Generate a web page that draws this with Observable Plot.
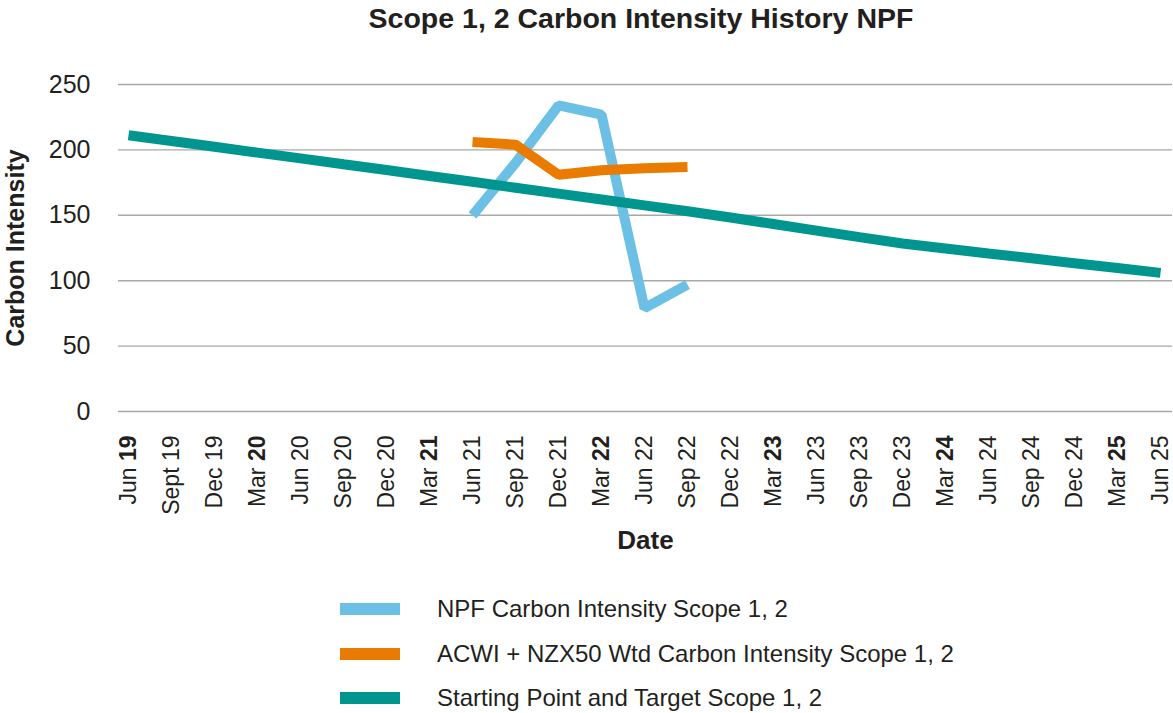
<!DOCTYPE html>
<html>
<head>
<meta charset="utf-8">
<script src="https://cdn.jsdelivr.net/npm/d3@7"></script>
<script src="https://cdn.jsdelivr.net/npm/@observablehq/plot@0.6"></script>
<style>
  html, body { margin: 0; padding: 0; background: #fff; }
  #wrap { position: relative; width: 1173px; height: 713px; overflow: hidden; font-family: "Liberation Sans", Arial, Helvetica, sans-serif; color: #231f20; }
  #title { position: absolute; left: 641px; top: 4px; transform: translateX(-50%); white-space: nowrap; font-size: 28.5px; line-height: 28.5px; font-weight: bold; }
  #chart { position: absolute; left: 0; top: 50px; }
  .lg-row { position: absolute; left: 0; width: 1173px; height: 24px; }
  .lg-sw { position: absolute; left: 340px; top: 6px; width: 60px; height: 12px; }
  .lg-tx { position: absolute; left: 437px; top: 0; font-size: 24px; line-height: 24px; white-space: nowrap; }
</style>
</head>
<body>
<div id="wrap">
  <div id="title"></div>
  <div id="chart"></div>
  <div id="legend"></div>
</div>
<script>
// ---- Data ----
const chartTitle = "Scope 1, 2 Carbon Intensity History NPF";
const xLabels = ["Jun 19","Sept 19","Dec 19","Mar 20","Jun 20","Sep 20","Dec 20","Mar 21","Jun 21","Sep 21","Dec 21","Mar 22","Jun 22","Sep 22","Dec 22","Mar 23","Jun 23","Sep 23","Dec 23","Mar 24","Jun 24","Sep 24","Dec 24","Mar 25","Jun 25"];
const boldYearLabels = ["Jun 19","Mar 20","Mar 21","Mar 22","Mar 23","Mar 24","Mar 25"];
const yTicks = [0, 50, 100, 150, 200, 250];

const seriesNames = ["NPF Carbon Intensity Scope 1, 2", "ACWI + NZX50 Wtd Carbon Intensity Scope 1, 2", "Starting Point and Target Scope 1, 2"];
const seriesColors = ["#6cc0e5", "#e97c00", "#00968f"];

const npfDates = ["Jun 21","Sep 21","Dec 21","Mar 22","Jun 22","Sep 22"];
const npfValues = [150, 190, 234, 227, 79, 97];
const acwiDates = ["Jun 21","Sep 21","Dec 21","Mar 22","Jun 22","Sep 22"];
const acwiValues = [206, 204, 181, 184.5, 186, 187];
const targetDates = xLabels;
const targetValues = [211.2, 206.8, 202.4, 197.9, 193.5, 189.0, 184.6, 180.1, 175.6, 171.1, 166.6, 162.1, 157.6, 153.1, 148.3, 143.3, 138.3, 133.3, 128.4, 124.6, 120.8, 117.1, 113.4, 109.7, 106.0];

const axisTitleY = "Carbon Intensity";
const axisTitleX = "Date";

// ---- Build tables ----
const npf = npfDates.map((d, i) => ({date: d, value: npfValues[i]}));
const acwi = acwiDates.map((d, i) => ({date: d, value: acwiValues[i]}));
const target = targetDates.map((d, i) => ({date: d, value: targetValues[i]}));

document.getElementById("title").textContent = chartTitle;

const textColor = "#231f20";
const plot = Plot.plot({
  width: 1173,
  height: 520,
  marginTop: 34,
  marginBottom: 159,
  marginLeft: 118,
  marginRight: 1,
  style: {fontFamily: '"Liberation Sans", Arial, Helvetica, sans-serif', color: textColor, background: "transparent"},
  x: {type: "point", domain: xLabels, padding: 0, insetLeft: 5, insetRight: 8},
  y: {domain: [0, 250]},
  marks: [
    Plot.ruleY(yTicks, {stroke: "#a8a8a8", strokeWidth: 1.4}),
    Plot.axisY({ticks: yTicks, tickSize: 0, tickPadding: 28, fontSize: 25, label: null}),
    Plot.axisX({tickRotate: -90, tickSize: 0, tickPadding: 24, fontSize: 23, label: null}),
    Plot.line(npf, {x: "date", y: "value", stroke: seriesColors[0], strokeWidth: 10, strokeLinejoin: "miter", strokeLinecap: "butt"}),
    Plot.line(acwi, {x: "date", y: "value", stroke: seriesColors[1], strokeWidth: 10, strokeLinejoin: "miter", strokeLinecap: "butt"}),
    Plot.line(target, {x: "date", y: "value", stroke: seriesColors[2], strokeWidth: 10, strokeLinejoin: "miter", strokeLinecap: "butt"}),
    Plot.text([axisTitleY], {text: d => d, frameAnchor: "left", dx: -94.5, rotate: -90, lineAnchor: "bottom", textAnchor: "middle", fontSize: 25, fontWeight: "bold", fill: textColor}),
    Plot.text([axisTitleX], {text: d => d, frameAnchor: "bottom", dy: 137, lineAnchor: "bottom", textAnchor: "middle", fontSize: 26, fontWeight: "bold", fill: textColor})
  ]
});
document.getElementById("chart").appendChild(plot);

// Bold year in selected tick labels
plot.querySelectorAll('g[aria-label="x-axis tick label"] text').forEach(t => {
  const label = t.textContent;
  if (boldYearLabels.includes(label)) {
    const parts = label.split(" ");
    while (t.firstChild) t.removeChild(t.firstChild);
    t.appendChild(document.createTextNode(parts[0] + " "));
    const ts = document.createElementNS("http://www.w3.org/2000/svg", "tspan");
    ts.setAttribute("font-weight", "bold");
    ts.textContent = parts[1];
    t.appendChild(ts);
  }
});

// Legend
const legendTops = [597, 642, 686];
const legend = document.getElementById("legend");
seriesNames.forEach((name, i) => {
  const row = document.createElement("div");
  row.className = "lg-row";
  row.style.top = legendTops[i] + "px";
  const sw = document.createElement("div");
  sw.className = "lg-sw";
  sw.style.background = seriesColors[i];
  const tx = document.createElement("div");
  tx.className = "lg-tx";
  tx.textContent = name;
  row.appendChild(sw);
  row.appendChild(tx);
  legend.appendChild(row);
});
</script>
</body>
</html>
